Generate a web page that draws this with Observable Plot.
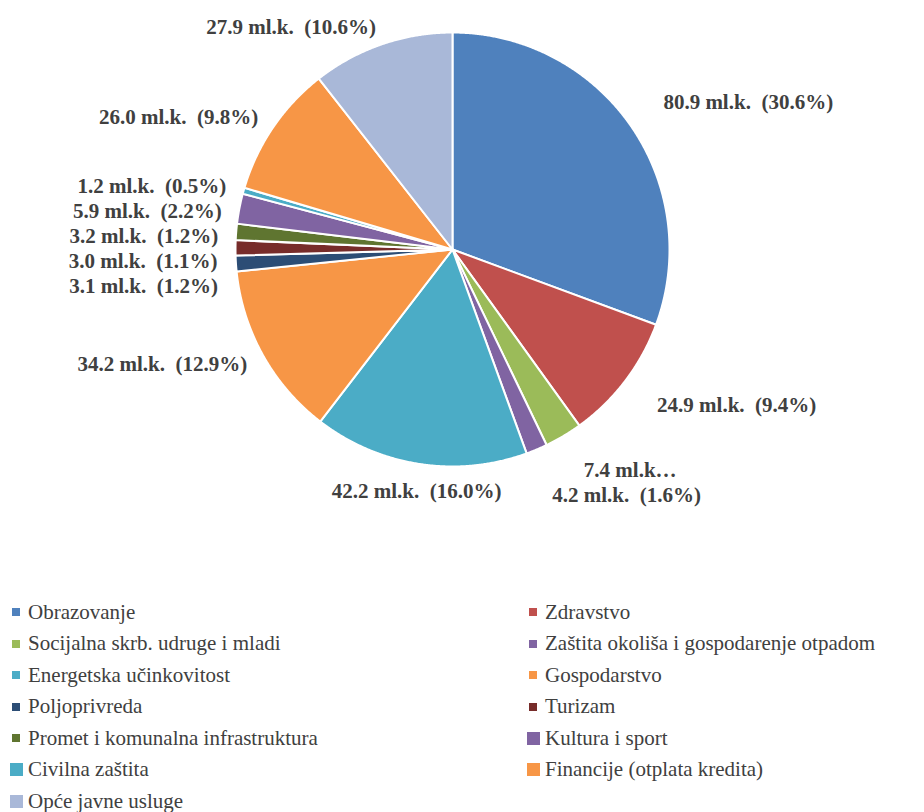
<!DOCTYPE html>
<html><head><meta charset="utf-8">
<script src="https://cdn.jsdelivr.net/npm/d3@7"></script>
<script src="https://cdn.jsdelivr.net/npm/@observablehq/plot@0.6"></script>
<style>
html body, html body *, svg text { font-family: "Liberation Serif", serif !important; }
</style>
</head><body style="margin:0;background:#fff;">
<div id="chart"></div><div id="legend" style="position:relative;height:252px;width:924px;"></div>
<script>
const categories = ["Obrazovanje","Zdravstvo","Socijalna skrb. udruge i mladi","Zaštita okoliša i gospodarenje otpadom","Energetska učinkovitost","Gospodarstvo","Poljoprivreda","Turizam","Promet i komunalna infrastruktura","Kultura i sport","Civilna zaštita","Financije (otplata kredita)","Opće javne usluge"];
const values = [80.9, 24.9, 7.4, 4.2, 42.2, 34.2, 3.1, 3.0, 3.2, 5.9, 1.2, 26.0, 27.9];
const colors = ["#4F81BD","#C0504D","#9BBB59","#8064A2","#4BACC6","#F79646","#2C4D75","#772C2A","#5F7530","#8064A2","#4BACC6","#F79646","#A9B8D8"];
const labels = ["80.9 ml.k.\u00a0 (30.6%)","24.9 ml.k.\u00a0 (9.4%)","7.4 ml.k…","4.2 ml.k.\u00a0 (1.6%)","42.2 ml.k.\u00a0 (16.0%)","34.2 ml.k.\u00a0 (12.9%)","3.1 ml.k.\u00a0 (1.2%)","3.0 ml.k.\u00a0 (1.1%)","3.2 ml.k.\u00a0 (1.2%)","5.9 ml.k.\u00a0 (2.2%)","1.2 ml.k.\u00a0 (0.5%)","26.0 ml.k.\u00a0 (9.8%)","27.9 ml.k.\u00a0 (10.6%)"];

const W = 924, H = 560, CX = 452, CY = 249, R = 217;
const FONT = "Liberation Serif";
const total = d3.sum(values);
let acc = 0;
const slices = categories.map((c, i) => {
  const a0 = acc / total * 2 * Math.PI; acc += values[i];
  const a1 = acc / total * 2 * Math.PI;
  return {name: c, i, a0, a1, mid: (a0 + a1) / 2};
});
const pts = [];
for (const s of slices) {
  pts.push({name: s.name, x: 0, y: 0});
  const n = Math.max(2, Math.ceil((s.a1 - s.a0) / 0.005));
  for (let k = 0; k <= n; k++) {
    const a = s.a0 + (s.a1 - s.a0) * k / n;
    pts.push({name: s.name, x: Math.sin(a), y: Math.cos(a)});
  }
}
// label layout
const gapL = 18 / R, gapR = 40 / R, dmin = 25 / R;
const lab = slices.map(s => {
  const sn = Math.sin(s.mid), cs = Math.cos(s.mid);
  const r = 1 + (sn > 0 ? gapR : gapL);
  let anchor = sn > 0.3 ? "start" : sn < -0.3 ? "end" : "middle";
  let ly = r * cs;
  if (anchor === "middle") ly += cs < 0 ? -10 / R : 10 / R;
  return {label: labels[s.i], lx: r * sn, ly, anchor};
});
for (const side of [lab.filter(d => d.lx < 0 && d.anchor !== "middle"), lab.filter(d => d.lx > 0 && d.anchor !== "middle")]) {
  side.sort((a, b) => b.ly - a.ly);
  for (let k = 1; k < side.length; k++) {
    if (side[k - 1].ly - side[k].ly < dmin) side[k].ly = side[k - 1].ly - dmin;
  }
}
const textOpts = a => ({x: "lx", y: "ly", text: "label", textAnchor: a, fontSize: 21, fontWeight: "bold", fill: "#404040", fontFamily: FONT});

const chart = Plot.plot({
  width: W, height: H, margin: 0,
  style: {fontFamily: FONT, background: "#fff"},
  x: {domain: [-CX / R, (W - CX) / R], axis: null},
  y: {domain: [-(H - CY) / R, CY / R], axis: null},
  color: {domain: categories, range: colors},
  marks: [
    Plot.line(pts, {x: "x", y: "y", z: "name", fill: "name", stroke: "white", strokeWidth: 2, strokeLinejoin: "round", curve: "linear-closed"}),
    Plot.text(lab.filter(d => d.anchor === "start"), textOpts("start")),
    Plot.text(lab.filter(d => d.anchor === "end"), textOpts("end")),
    Plot.text(lab.filter(d => d.anchor === "middle"), textOpts("middle"))
  ]
});
chart.querySelectorAll("text").forEach(t => { t.style.setProperty("font-family", FONT, "important"); });
document.getElementById("chart").appendChild(chart);

const legend = document.getElementById("legend");
categories.forEach((c, i) => {
  const row = Math.floor(i / 2), col = i % 2;
  const big = i >= 9;
  const el = document.createElement("div");
  const sz = big ? 13 : 8;
  Object.assign(el.style, {
    position: "absolute", display: "flex", alignItems: "center", whiteSpace: "nowrap",
    fontSize: "21px", color: "#404040", lineHeight: "1",
    left: (col ? (big ? 527 : 529) : (big ? 10 : 12)) + "px",
    top: (52 + row * 31.5 - 12) + "px", height: "24px"
  });
  const sw = document.createElement("span");
  Object.assign(sw.style, {display: "inline-block", width: sz + "px", height: sz + "px", background: colors[i], marginRight: (big ? 5 : 8) + "px"});
  const tx = document.createElement("span");
  tx.style.setProperty("font-family", FONT, "important");
  tx.textContent = c;
  el.appendChild(sw);
  el.appendChild(tx);
  legend.appendChild(el);
});
</script>
</body></html>
